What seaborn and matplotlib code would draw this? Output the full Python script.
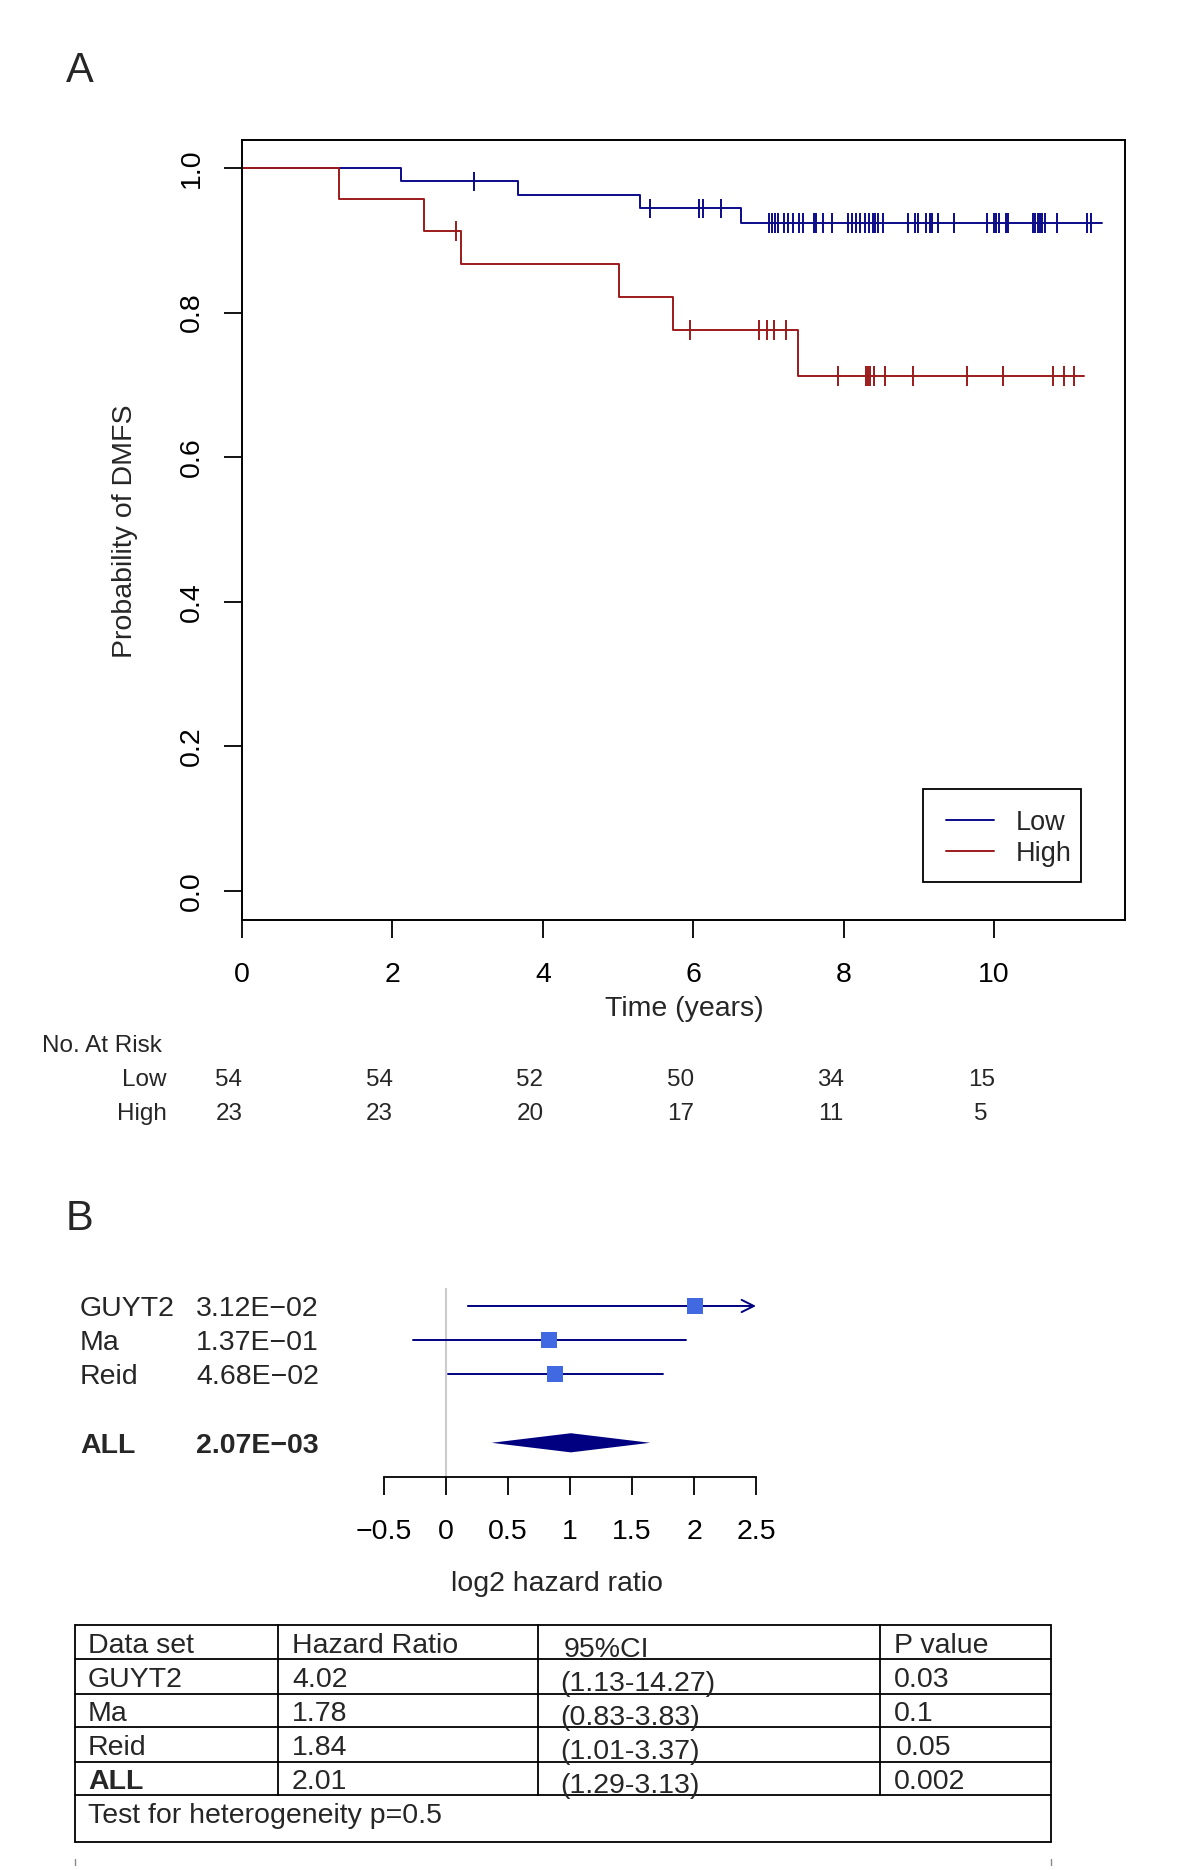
import numpy as np
import pandas as pd
import matplotlib
matplotlib.use("Agg")
import matplotlib.pyplot as plt
import matplotlib.transforms as mtransforms
from matplotlib.patches import Rectangle
from matplotlib.lines import Line2D
import seaborn as sns

# ---------------- data: Kaplan-Meier (panel A) ----------------
low_event_times = [2.12, 3.67, 5.29, 6.63]
low_surv = [0.9815, 0.9627, 0.944, 0.9235]
low_end = 11.43
low_censor = [3.09, 5.43, 6.08, 6.13, 6.37, 7.01, 7.05, 7.09, 7.13, 7.20, 7.26,
              7.33, 7.40, 7.46, 7.61, 7.63, 7.73, 7.84, 8.06, 8.11, 8.17, 8.22,
              8.28, 8.34, 8.39, 8.42, 8.46, 8.52, 8.86, 8.95, 8.99, 9.10, 9.15,
              9.18, 9.26, 9.47, 9.90, 10.00, 10.03, 10.06, 10.16, 10.19, 10.52,
              10.55, 10.58, 10.61, 10.64, 10.67, 10.83, 11.23, 11.29]

high_event_times = [1.29, 2.42, 2.91, 5.01, 5.73, 7.39]
high_surv = [0.9565, 0.913, 0.8675, 0.822, 0.776, 0.712]
high_end = 11.2
high_censor = [2.85, 5.95, 6.87, 6.98, 7.07, 7.23, 7.92, 8.29, 8.32, 8.35, 8.40,
               8.55, 8.92, 9.64, 10.12, 10.78, 10.93, 11.06]

x_ticks = [0, 2, 4, 6, 8, 10]
y_ticks = [0.0, 0.2, 0.4, 0.6, 0.8, 1.0]
risk_times = [0, 2, 4, 6, 8, 10]
risk_low = [54, 54, 52, 50, 34, 15]
risk_high = [23, 23, 20, 17, 11, 5]

# ---------------- data: forest plot / table (panel B) ----------------
studies = ["GUYT2", "Ma", "Reid", "ALL"]
meta_p_text = ["3.12E\u221202", "1.37E\u221201", "4.68E\u221202", "2.07E\u221203"]
hazard_ratio = [4.02, 1.78, 1.84, 2.01]
ci_low = [1.13, 0.83, 1.01, 1.29]
ci_high = [14.27, 3.83, 3.37, 3.13]
table_p = ["0.03", "0.1", "0.05", "0.002"]
row_pos = [0, 1, 2, 4]
forest_ticks = [-0.5, 0, 0.5, 1, 1.5, 2, 2.5]
forest_ticklabels = ["\u22120.5", "0", "0.5", "1", "1.5", "2", "2.5"]
table_header = ["Data set", "Hazard Ratio", "95%CI", "P value"]
heterogeneity_text = "Test for heterogeneity p=0.5"

# ---------------- style ----------------
sns.set_theme(style="white")
plt.rcParams["font.family"] = ["Liberation Sans", "DejaVu Sans"]
plt.rcParams["axes.unicode_minus"] = True

W, H = 1200, 1870
fig = plt.figure(figsize=(12, 18.7), dpi=100)
fig.patch.set_facecolor("white")

TY = 3  # small downward nudge (px) so text centres match glyph centres


def fx(x):
    return x / W


def fy(y):
    return 1 - y / H


def fyt(y):
    return 1 - (y + TY) / H


def box(l, t, r, b):
    return [fx(l), fy(b), (r - l) / W, (b - t) / H]


col_low = "#0b0b8a"
col_high = "#9c1a1a"
FS = 20.5

# ================= Panel A =================
ax = fig.add_axes(box(242, 140, 1125, 920))

km_rows = []
for grp, ev, sv, end in [("Low", low_event_times, low_surv, low_end),
                         ("High", high_event_times, high_surv, high_end)]:
    t = [0.0] + list(ev) + [end]
    s = [1.0] + list(sv) + [sv[-1]]
    for ti, si in zip(t, s):
        km_rows.append((grp, ti, si))
km_df = pd.DataFrame(km_rows, columns=["group", "time", "surv"])


def surv_at(times, ev, sv):
    tt = np.array([0.0] + list(ev))
    ss = np.array([1.0] + list(sv))
    idx = np.searchsorted(tt, np.asarray(times), side="right") - 1
    return ss[idx]


cens_df = pd.concat([
    pd.DataFrame({"group": "Low", "time": low_censor,
                  "surv": surv_at(low_censor, low_event_times, low_surv)}),
    pd.DataFrame({"group": "High", "time": high_censor,
                  "surv": surv_at(high_censor, high_event_times, high_surv)}),
])

pal = {"Low": col_low, "High": col_high}
sns.lineplot(data=km_df, x="time", y="surv", hue="group", palette=pal,
             drawstyle="steps-post", estimator=None, sort=False,
             legend=False, linewidth=1.4, ax=ax)
sns.scatterplot(data=cens_df, x="time", y="surv", hue="group", palette=pal,
                marker="|", s=200, linewidth=1.4, legend=False, ax=ax, zorder=3)

ax.set_xlim(0, 11.74)
ax.set_ylim(-0.04, 1.0387)
ax.set_xticks(x_ticks)
ax.set_xticklabels([str(v) for v in x_ticks])
ax.set_yticks(y_ticks)
ax.set_yticklabels([f"{v:.1f}" for v in y_ticks], rotation=90, va="center")
ax.set_xlabel("")
ax.set_ylabel("")
for sp in ax.spines.values():
    sp.set_visible(True)
    sp.set_color("black")
    sp.set_linewidth(1.4)
ax.tick_params(axis="both", direction="out", length=13, width=1.3,
               color="black", labelsize=FS, labelcolor="black")
ax.tick_params(axis="x", pad=17, bottom=True)
ax.tick_params(axis="y", pad=14, left=True)
ax.grid(False)

fig.text(fx(684), fyt(1006), "Time (years)", ha="center", va="center", fontsize=FS)
fig.text(fx(125), fy(531), "Probability of DMFS", ha="center", va="center",
         fontsize=FS, rotation=90)
fig.text(fx(66), fyt(68), "A", ha="left", va="center", fontsize=30)

# legend (drawn manually to match R's box legend)
fig.add_artist(Rectangle((fx(923), fy(882)), (1081 - 923) / W, (882 - 789) / H,
                         transform=fig.transFigure, fill=False,
                         edgecolor="black", linewidth=1.3))
for lab, yy, cc in [("Low", 820, col_low), ("High", 851, col_high)]:
    fig.add_artist(Line2D([fx(946), fx(994)], [fy(yy), fy(yy)],
                          transform=fig.transFigure, color=cc, linewidth=1.4))
    fig.text(fx(1016), fyt(yy), lab, ha="left", va="center", fontsize=19.5)

# number at risk
fig.text(fx(42), fyt(1043), "No. At Risk", ha="left", va="center", fontsize=17.5)
risk_tr = mtransforms.offset_copy(
    mtransforms.blended_transform_factory(ax.transData, fig.transFigure),
    fig=fig, x=-13, y=0, units="dots")
for lab, yy, vals in [("Low", 1077, risk_low), ("High", 1111, risk_high)]:
    fig.text(fx(167), fyt(yy), lab, ha="right", va="center", fontsize=17.5)
    for t, v in zip(risk_times, vals):
        ax.text(t, fyt(yy), str(v), transform=risk_tr, ha="center", va="center",
                fontsize=17.5, clip_on=False)

# ================= Panel B: forest =================
fig.text(fx(66), fyt(1216), "B", ha="left", va="center", fontsize=30)

axf = fig.add_axes(box(384, 1288, 756, 1477))
axf.set_xlim(-0.5, 2.5)
axf.set_ylim(5.0, -0.526)
axf.axvline(0, color="#cccccc", linewidth=1.5, zorder=0)

lhr = np.log2(hazard_ratio)
llo = np.log2(ci_low)
lhi = np.log2(ci_high)
xmax = forest_ticks[-1]
navy = "#000080"
for i in range(3):
    y = row_pos[i]
    if lhi[i] > xmax:
        axf.annotate("", xy=(xmax, y), xytext=(llo[i], y),
                     arrowprops=dict(arrowstyle="->", color=navy, lw=1.4,
                                     mutation_scale=22, shrinkA=0, shrinkB=0))
    else:
        axf.plot([llo[i], lhi[i]], [y, y], color=navy, linewidth=1.4)

sq_df = pd.DataFrame({"lhr": lhr[:3], "row": row_pos[:3]})
sns.scatterplot(data=sq_df, x="lhr", y="row", marker="s", s=120,
                color="#4169E1", linewidth=0, ax=axf, zorder=4, legend=False)

yall = row_pos[3]
dh = 0.28
axf.fill([llo[3], lhr[3], lhi[3], lhr[3]], [yall, yall - dh, yall, yall + dh],
         color=navy, linewidth=0)

for sp in ["left", "top", "right"]:
    axf.spines[sp].set_visible(False)
axf.spines["bottom"].set_color("black")
axf.spines["bottom"].set_linewidth(1.3)
axf.spines["bottom"].set_bounds(forest_ticks[0], forest_ticks[-1])
axf.set_xticks(forest_ticks)
axf.set_xticklabels(forest_ticklabels)
axf.set_yticks([])
axf.set_xlabel("")
axf.set_ylabel("")
axf.tick_params(axis="x", direction="out", length=13, width=1.3, color="black",
                labelsize=FS, pad=17, bottom=True, labelcolor="black")
axf.grid(False)
axf.patch.set_alpha(0)

fig.text(fx(557), fyt(1581), "log2 hazard ratio", ha="center", va="center",
         fontsize=FS)

lab_tr = mtransforms.offset_copy(
    mtransforms.blended_transform_factory(fig.transFigure, axf.transData),
    fig=fig, x=0, y=-TY, units="dots")
for i in range(4):
    w = "bold" if studies[i] == "ALL" else "normal"
    axf.text(fx(80), row_pos[i], studies[i], transform=lab_tr, ha="left",
             va="center", fontsize=FS, fontweight=w, clip_on=False)
    axf.text(fx(196), row_pos[i], meta_p_text[i], transform=lab_tr, ha="left",
             va="center", fontsize=FS, fontweight=w, clip_on=False)

# ================= Panel B: table =================
tl, tr_ = 75, 1051
row_lines = [1625, 1659, 1694, 1727, 1762, 1795, 1842]
col_lines = [278, 538, 880]
lw_t = 1.3


def hline(y, x0=tl, x1=tr_):
    fig.add_artist(Line2D([fx(x0), fx(x1)], [fy(y), fy(y)],
                          transform=fig.transFigure, color="black", linewidth=lw_t))


def vline(x, y0, y1, color="black", lw=lw_t):
    fig.add_artist(Line2D([fx(x), fx(x)], [fy(y0), fy(y1)],
                          transform=fig.transFigure, color=color, linewidth=lw))


for y in row_lines:
    hline(y)
vline(tl, row_lines[0], row_lines[-1])
vline(tr_, row_lines[0], row_lines[-1])
for x in col_lines:
    vline(x, row_lines[0], row_lines[-2])
# small marks under the table
vline(tl, 1859, 1865, color="#888888", lw=1.0)
vline(tr_, 1859, 1865, color="#888888", lw=1.0)

col_x = [88, 292, 560, 894]
hdr_y = 1643
fig.text(fx(col_x[0]), fyt(hdr_y), table_header[0], ha="left", va="center", fontsize=FS)
fig.text(fx(col_x[1]), fyt(hdr_y), table_header[1], ha="left", va="center", fontsize=FS)
fig.text(fx(col_x[2] + 4), fyt(hdr_y + 4), table_header[2], ha="left", va="center", fontsize=FS)
fig.text(fx(col_x[3]), fyt(hdr_y), table_header[3], ha="left", va="center", fontsize=FS)

row_cy = [1677, 1711, 1745, 1779]
p_dx = [0, 0, 2, 0]
for i in range(4):
    w = "bold" if studies[i] == "ALL" else "normal"
    y = row_cy[i]
    fig.text(fx(col_x[0]), fyt(y), studies[i], ha="left", va="center",
             fontsize=FS, fontweight=w)
    fig.text(fx(col_x[1]), fyt(y), f"{hazard_ratio[i]:.2f}", ha="left",
             va="center", fontsize=FS)
    fig.text(fx(col_x[2]), fyt(y + 4), f"({ci_low[i]:.2f}-{ci_high[i]:.2f})",
             ha="left", va="center", fontsize=FS)
    fig.text(fx(col_x[3] + p_dx[i]), fyt(y), table_p[i], ha="left", va="center",
             fontsize=FS)
fig.text(fx(col_x[0]), fyt(1813), heterogeneity_text, ha="left", va="center",
         fontsize=FS)

fig.savefig("out.png", dpi=100, facecolor="white")
